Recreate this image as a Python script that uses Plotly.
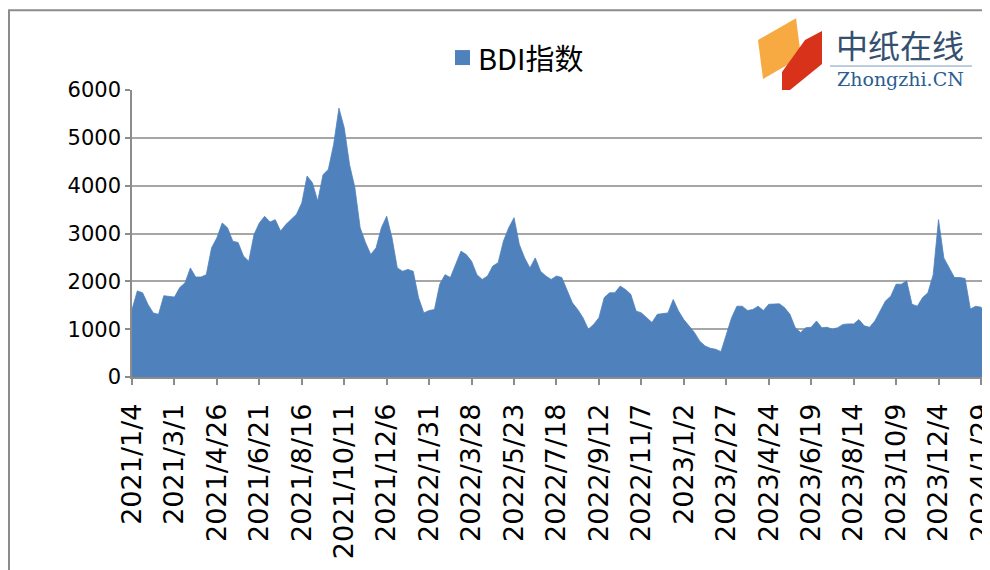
import pandas as pd
import plotly.graph_objects as go

# ---------------- data ----------------
start_date = "2021-01-04"          # first weekly observation (Monday)
end_date = "2024-02-02"            # last observation shown
bdi_weekly = [
    1410, 1800, 1760, 1520, 1340, 1310, 1700, 1690, 1670, 1870,
    1970, 2280, 2090, 2090, 2140, 2700, 2910, 3220, 3120, 2840,
    2810, 2530, 2420, 2980, 3220, 3360, 3240, 3290, 3050, 3190,
    3290, 3400, 3640, 4200, 4060, 3680, 4230, 4340, 4860, 5620,
    5210, 4440, 3960, 3120, 2810, 2560, 2700, 3120, 3360, 2910,
    2280, 2210, 2250, 2210, 1660, 1340, 1390, 1410, 1940, 2140,
    2080, 2350, 2630, 2560, 2420, 2140, 2040, 2110, 2320, 2390,
    2840, 3120, 3330, 2770, 2490, 2280, 2490, 2210, 2110, 2040,
    2110, 2080, 1830, 1550, 1410, 1240, 1000, 1100, 1240, 1660,
    1760, 1760, 1900, 1830, 1730, 1380, 1340, 1240, 1140, 1310,
    1320, 1340, 1620, 1380, 1200, 1070, 930, 750, 650, 600,
    580, 530, 890, 1240, 1480, 1480, 1390, 1410, 1480, 1390,
    1520, 1530, 1530, 1450, 1310, 1030, 930, 1030, 1040, 1170,
    1030, 1040, 1000, 1030, 1100, 1110, 1110, 1200, 1070, 1040,
    1170, 1380, 1590, 1690, 1940, 1940, 2010, 1520, 1480, 1660,
    1760, 2140, 3290, 2490, 2280, 2080, 2080, 2060, 1420, 1480,
    1460,
]
bdi_last = 1390

tick_labels = [
    "2021/1/4", "2021/3/1", "2021/4/26", "2021/6/21", "2021/8/16",
    "2021/10/11", "2021/12/6", "2022/1/31", "2022/3/28", "2022/5/23",
    "2022/7/18", "2022/9/12", "2022/11/7", "2023/1/2", "2023/2/27",
    "2023/4/24", "2023/6/19", "2023/8/14", "2023/10/9", "2023/12/4",
    "2024/1/29",
]
y_ticks = [0, 1000, 2000, 3000, 4000, 5000, 6000]
series_name = "BDI指数"

# ---------------- build ----------------
dates = list(pd.date_range(start_date, periods=len(bdi_weekly), freq="7D"))
dates.append(pd.Timestamp(end_date))
values = bdi_weekly + [bdi_last]
tick_vals = [pd.Timestamp(t.replace("/", "-")) for t in tick_labels]

BLUE = "#4f81bd"
GRID = "#a6a6a6"
AXIS = "#8c8c8c"

# The page places the figure 8px in from the top-left corner,
# so the figure is sized to fill the rest of the 990x570 window.
OFF = 8
W, H = 990 - OFF, 570 - OFF
L, R, T, B = 132 - OFF, 984 - OFF, 90 - OFF, 377.5 - OFF


def px(x):
    """page pixel x -> paper x"""
    return (x - OFF - L) / (R - L)


def py(y):
    """page pixel y -> paper y"""
    return (B - (y - OFF)) / (B - T)


fig = go.Figure()
fig.add_trace(go.Scatter(
    x=dates, y=values, mode="lines",
    line=dict(color=BLUE, width=0.8),
    fill="tozeroy", fillcolor=BLUE,
    name=series_name, showlegend=False,
    hovertemplate="%{x|%Y/%m/%d}: %{y}<extra></extra>",
))

shapes = []
annotations = []

# outer frame
shapes.append(dict(type="rect", xref="paper", yref="paper",
                   x0=px(9), x1=px(1010), y0=py(600), y1=py(10),
                   line=dict(color=AXIS, width=2), fillcolor="rgba(0,0,0,0)",
                   layer="above"))

# legend
shapes.append(dict(type="rect", xref="paper", yref="paper",
                   x0=px(455), x1=px(470), y0=py(65), y1=py(50),
                   line=dict(width=0), fillcolor=BLUE))
annotations.append(dict(xref="paper", yref="paper", x=px(476), y=py(57),
                        text=series_name, showarrow=False, xanchor="left",
                        yanchor="middle",
                        font=dict(family="Noto Sans CJK SC", size=29, color="#000000")))

# logo
shapes.append(dict(type="path", xref="paper", yref="paper",
                   path="M {} {} L {} {} L {} {} L {} {} Z".format(
                       px(758), py(40), px(796), py(18), px(801), py(57), px(763), py(79)),
                   line=dict(width=0), fillcolor="#f6a12e", opacity=0.9))
shapes.append(dict(type="path", xref="paper", yref="paper",
                   path="M {} {} L {} {} L {} {} L {} {} L {} {} L {} {} Z".format(
                       px(805), py(40), px(822), py(31), px(822), py(64),
                       px(790), py(90), px(782), py(90), px(782), py(72)),
                   line=dict(width=0), fillcolor="#d8321b"))
shapes.append(dict(type="line", xref="paper", yref="paper",
                   x0=px(830), x1=px(972), y0=py(66), y1=py(66),
                   line=dict(color="#7d9cbd", width=1)))
annotations.append(dict(xref="paper", yref="paper", x=px(900), y=py(44),
                        text="中纸在线", showarrow=False, xanchor="center",
                        yanchor="middle",
                        font=dict(family="Noto Sans CJK SC", size=32, color="#34506e")))
annotations.append(dict(xref="paper", yref="paper", x=px(900), y=py(79),
                        text="Zhongzhi.CN", showarrow=False, xanchor="center",
                        yanchor="middle",
                        font=dict(family="DejaVu Serif", size=19, color="#2b5d92")))

fig.update_layout(
    width=W, height=H,
    margin=dict(l=L, r=W - R, t=T, b=H - B, pad=0, autoexpand=False),
    paper_bgcolor="white", plot_bgcolor="white",
    shapes=shapes, annotations=annotations,
    showlegend=False,
    xaxis=dict(
        type="date",
        range=[pd.Timestamp(start_date), pd.Timestamp(end_date)],
        tickmode="array", tickvals=tick_vals, ticktext=tick_labels,
        tickangle=-90,
        ticks="outside", ticklen=6, tickwidth=1.5, tickcolor=AXIS,
        showgrid=False, showline=True, linecolor=AXIS, linewidth=1.5,
        zeroline=False, automargin=False,
        tickfont=dict(family="DejaVu Sans", size=27, color="#000000"),
        ticklabelstandoff=8,
        ticklabeloverflow="allow",
    ),
    yaxis=dict(
        range=[0, 6000], tickmode="array", tickvals=y_ticks,
        ticks="outside", ticklen=5, tickwidth=1.5, tickcolor=AXIS,
        showgrid=True, gridcolor=GRID, gridwidth=1.5,
        showline=True, linecolor=AXIS, linewidth=1.5,
        zeroline=False, automargin=False,
        tickfont=dict(family="DejaVu Sans", size=21, color="#000000"),
    ),
)

fig.write_html("out.html")
